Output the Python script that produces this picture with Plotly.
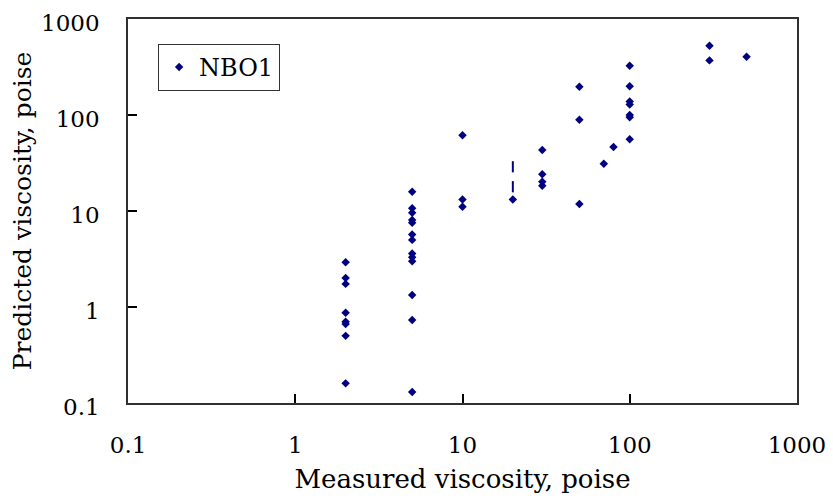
import plotly.graph_objects as go

measured = [2, 2, 2, 2, 2, 2, 2, 2,
            5, 5, 5, 5, 5, 5, 5, 5, 5, 5, 5, 5, 5,
            10, 10, 10,
            20,
            30, 30, 30, 30,
            50, 50, 50,
            70, 80,
            100, 100, 100, 100, 100, 100, 100,
            300, 300, 500]
predicted = [2.92, 2.0, 1.74, 0.87, 0.70, 0.665, 0.50, 0.16,
             15.9, 10.7, 9.6, 8.05, 7.55, 5.7, 5.0, 3.6, 3.3, 3.0, 1.33, 0.73, 0.13,
             61.5, 13.2, 11.1,
             13.2,
             43.2, 24.1, 20.2, 18.3,
             197, 89.3, 11.8,
             31.1, 46.4,
             326, 199, 138, 129, 100, 94.7, 55.8,
             527, 371, 405]

dash_x = [20, 20]
dash_y = [28.9, 17.9]

tick_vals = [0.1, 1, 10, 100, 1000]
tick_text = ["0.1", "1", "10", "100", "1000"]

navy = "#000080"
font_family = "DejaVu Serif"

fig = go.Figure()
fig.add_trace(go.Scatter(
    x=measured, y=predicted, mode="markers", name="NBO1",
    marker=dict(symbol="diamond", size=6.5, color=navy),
))
fig.add_trace(go.Scatter(
    x=dash_x, y=dash_y, mode="markers", showlegend=False,
    marker=dict(symbol="line-ns-open", size=8, color=navy, line=dict(color=navy, width=2)),
))

axis_common = dict(
    type="log", range=[-1.0005, 3.0005], tickvals=tick_vals, ticktext=tick_text,
    showgrid=False, zeroline=False, showline=True, linecolor="#303030", linewidth=1.5,
    mirror=True, ticks="inside", ticklen=9, tickcolor="black", tickwidth=1.5,
    tickfont=dict(family=font_family, size=23, color="black"),
    automargin=False, ticklabeloverflow="allow",
)

fig.update_layout(
    width=825, height=491,
    margin=dict(l=120, r=36, t=11, b=96),
    paper_bgcolor="white", plot_bgcolor="white",
    font=dict(family=font_family, size=23, color="black"),
    xaxis=dict(**axis_common, ticklabelstandoff=21,
               title=dict(text="Measured viscosity, poise", standoff=12,
                          font=dict(family=font_family, size=26, color="black"))),
    yaxis=dict(**axis_common, ticklabelstandoff=22, ticklabelshift=4,
               title=dict(text="Predicted viscosity, poise", standoff=2,
                          font=dict(family=font_family, size=25, color="black"))),
    legend=dict(x=0.045, y=0.935, xanchor="left", yanchor="top",
                bordercolor="#333333", borderwidth=1, bgcolor="white",
                font=dict(family=font_family, size=24, color="black"),
                itemsizing="trace", itemwidth=30, tracegroupgap=0),
    showlegend=True,
)

fig.write_html("out.html")
